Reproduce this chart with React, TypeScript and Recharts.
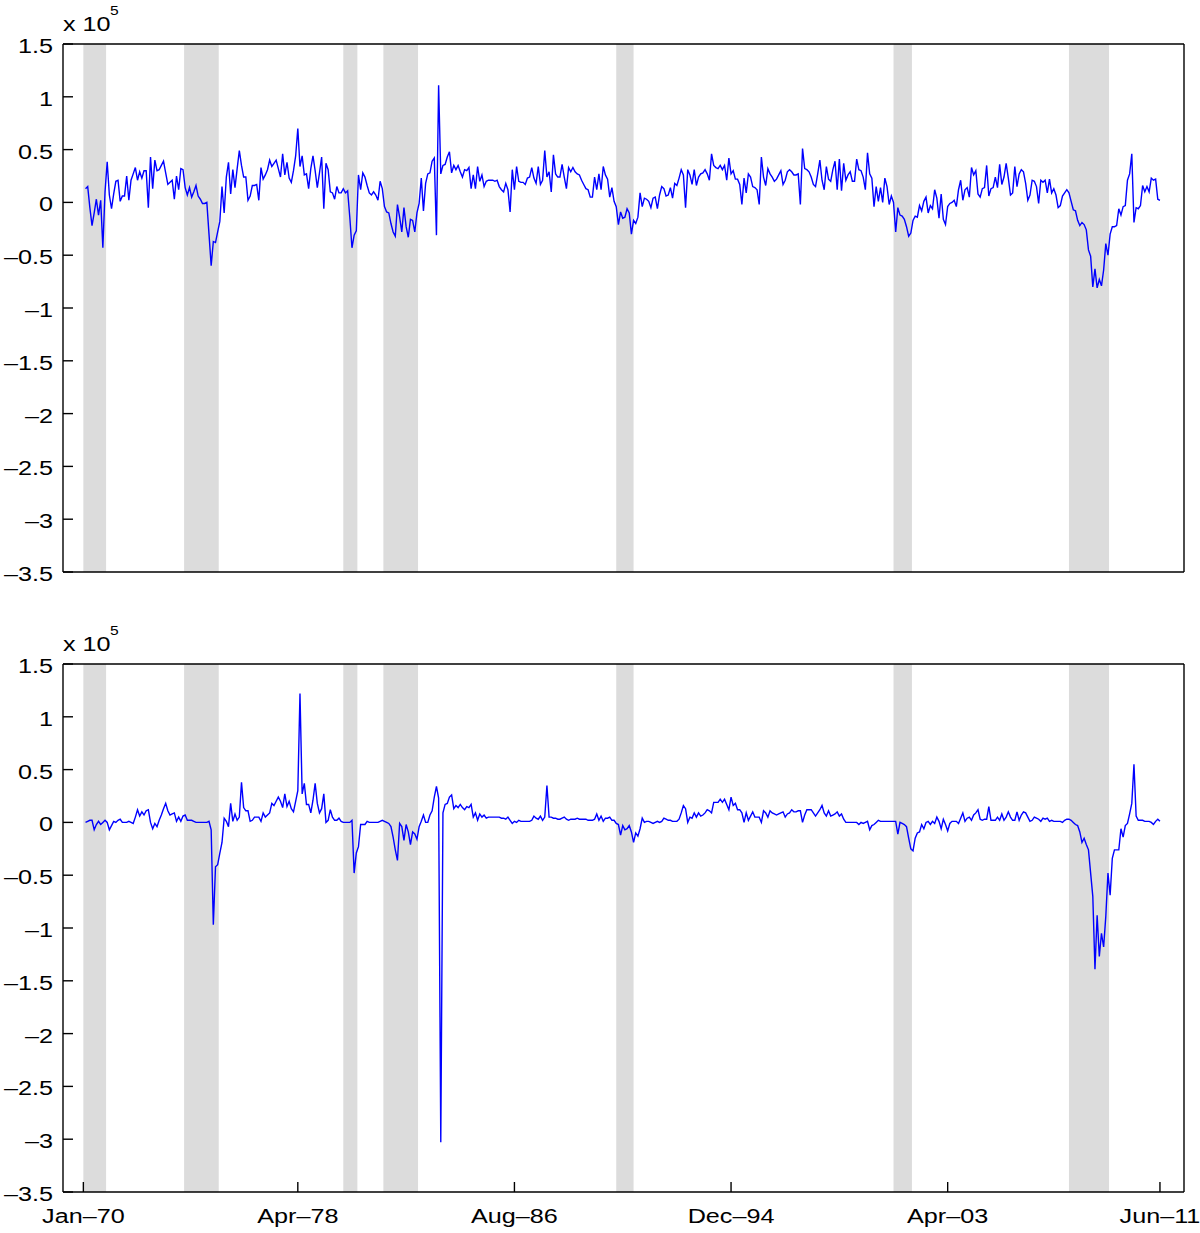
import React from "react";
import { LineChart, Line, XAxis, YAxis, ReferenceArea } from "recharts";

// monthly index: 0 = Jan-1970, series start at month 1
const firstMonth = 1;
const tickMonths = [0, 99, 199, 299, 399, 497];
const tickLabels = ["Jan–70", "Apr–78", "Aug–86", "Dec–94", "Apr–03", "Jun–11"];
const yTicks = [-3.5, -3, -2.5, -2, -1.5, -1, -0.5, 0, 0.5, 1, 1.5];

// NBER recessions, in month index
const recessionStart = [0, 46.5, 120, 138.5, 246, 374, 455];
const recessionEnd = [10.5, 62.5, 126.5, 154.5, 254, 382.5, 473.5];

// values in units of 1e5
const upperSeries = [
  0.13, 0.15, -0.05, -0.22, -0.10, 0.03, -0.12, 0.02, -0.43, 0.10,
  0.385, 0.07, -0.06, 0.08, 0.20, 0.21, 0.01, 0.06, 0.06, 0.25,
  0.02, 0.21, 0.27, 0.33, 0.21, 0.29, 0.23, 0.30, 0.30, -0.05,
  0.43, 0.13, 0.40, 0.30, 0.31, 0.35, 0.39, 0.28, 0.17, 0.19,
  0.21, 0.03, 0.25, 0.12, 0.32, 0.31, 0.14, 0.07, 0.14, 0.05,
  0.10, 0.16, 0.06, 0.03, -0.01, -0.01, 0.00, -0.30, -0.60, -0.37,
  -0.38, -0.28, -0.18, 0.15, -0.10, 0.24, 0.38, 0.08, 0.31, 0.14,
  0.32, 0.49, 0.35, 0.24, 0.24, 0.02, 0.06, 0.16, 0.16, 0.17,
  0.02, 0.33, 0.22, 0.26, 0.31, 0.40, 0.34, 0.37, 0.40, 0.32,
  0.24, 0.46, 0.26, 0.38, 0.23, 0.19, 0.30, 0.44, 0.70, 0.34,
  0.44, 0.26, 0.27, 0.13, 0.32, 0.44, 0.30, 0.14, 0.28, 0.43,
  -0.06, 0.37, 0.31, 0.10, 0.09, 0.03, 0.15, 0.09, 0.09, 0.13,
  0.09, 0.11, -0.14, -0.43, -0.31, -0.27, 0.26, 0.12, 0.28, 0.24,
  0.16, 0.09, 0.07, 0.10, 0.07, 0.02, 0.20, 0.13, -0.04, -0.09,
  -0.10, -0.20, -0.28, -0.32, -0.02, -0.14, -0.28, -0.05, -0.23, -0.33,
  -0.16, -0.17, -0.28, -0.10, -0.01, 0.23, -0.08, 0.18, 0.27, 0.28,
  0.39, 0.42, -0.31, 1.11, 0.27, 0.35, 0.36, 0.43, 0.48, 0.28,
  0.35, 0.31, 0.35, 0.29, 0.24, 0.31, 0.30, 0.33, 0.13, 0.26,
  0.13, 0.34, 0.20, 0.26, 0.15, 0.20, 0.21, 0.21, 0.21, 0.20,
  0.21, 0.15, 0.12, 0.10, 0.18, 0.12, -0.09, 0.31, 0.12, 0.34,
  0.20, 0.19, 0.19, 0.17, 0.23, 0.24, 0.33, 0.23, 0.18, 0.34,
  0.17, 0.21, 0.49, 0.24, 0.29, 0.10, 0.45, 0.27, 0.24, 0.24,
  0.36, 0.24, 0.13, 0.33, 0.29, 0.33, 0.29, 0.27, 0.26, 0.21,
  0.17, 0.13, 0.12, 0.05, 0.05, 0.24, 0.12, 0.27, 0.12, 0.34,
  0.26, 0.22, 0.05, 0.14, 0.01, -0.04, -0.21, -0.09, -0.15, -0.14,
  -0.06, -0.10, -0.30, -0.17, -0.20, -0.14, 0.09, -0.04, 0.04, 0.03,
  0.01, -0.05, 0.04, 0.05, -0.06, 0.07, 0.15, 0.13, 0.06, 0.07,
  0.14, 0.04, 0.18, 0.16, 0.23, 0.31, 0.26, -0.05, 0.31, 0.26,
  0.17, 0.31, 0.16, 0.24, 0.27, 0.28, 0.31, 0.27, 0.21, 0.46,
  0.35, 0.33, 0.32, 0.35, 0.31, 0.35, 0.21, 0.42, 0.27, 0.30,
  0.22, 0.22, 0.17, -0.02, 0.23, 0.09, 0.27, 0.24, 0.15, 0.14,
  0.12, -0.02, 0.43, 0.24, 0.16, 0.32, 0.27, 0.24, 0.20, 0.22,
  0.26, 0.30, 0.17, 0.21, 0.29, 0.31, 0.29, 0.26, 0.26, 0.27,
  -0.02, 0.51, 0.32, 0.31, 0.29, 0.24, 0.17, 0.15, 0.27, 0.40,
  0.21, 0.12, 0.34, 0.22, 0.20, 0.31, 0.39, 0.12, 0.41, 0.11,
  0.37, 0.21, 0.26, 0.29, 0.20, 0.20, 0.41, 0.31, 0.30, 0.24,
  0.12, 0.47, 0.27, 0.23, -0.04, 0.15, 0.01, 0.14, 0.00, 0.23,
  0.15, -0.02, 0.06, 0.00, -0.28, -0.05, -0.12, -0.13, -0.16, -0.23,
  -0.32, -0.29, -0.17, -0.13, -0.14, -0.03, -0.08, 0.01, 0.05, -0.10,
  -0.03, -0.06, 0.12, 0.04, -0.15, 0.08, -0.16, -0.21, -0.04, -0.01,
  0.00, 0.02, -0.04, 0.12, 0.21, 0.02, 0.12, 0.14, 0.05, 0.33,
  0.26, 0.30, 0.08, 0.05, 0.13, 0.14, 0.35, 0.06, 0.13, 0.14,
  0.24, 0.14, 0.36, 0.17, 0.24, 0.37, 0.23, 0.07, 0.09, 0.34,
  0.15, 0.27, 0.31, 0.29, 0.18, 0.02, 0.07, 0.21, 0.20, 0.15,
  -0.01, 0.21, 0.19, 0.21, 0.09, 0.22, 0.09, 0.13, 0.07, -0.05,
  -0.03, 0.06, 0.09, 0.12, 0.09, 0.01, -0.07, -0.08, -0.17, -0.22,
  -0.19, -0.21, -0.26, -0.45, -0.51, -0.80, -0.63, -0.81, -0.73, -0.79,
  -0.64, -0.39, -0.50, -0.30, -0.23, -0.23, -0.22, -0.06, -0.12, -0.04,
  -0.03, 0.21, 0.27, 0.46, -0.19, -0.05, -0.06, -0.03, 0.16, 0.10,
  0.15, 0.10, 0.23, 0.21, 0.22, 0.03, 0.02,
];

const lowerSeries = [
  0.00, 0.01, 0.02, 0.02, -0.07, -0.02, 0.01, -0.02, 0.00, 0.02,
  0.00, -0.07, -0.03, 0.01, 0.00, 0.02, 0.03, 0.00, 0.00, 0.00,
  0.01, 0.00, -0.01, 0.05, 0.12, 0.06, 0.10, 0.07, 0.11, 0.12,
  0.00, -0.06, -0.01, -0.04, 0.02, 0.07, 0.13, 0.18, 0.11, 0.07,
  0.08, 0.09, 0.01, 0.05, 0.01, 0.06, 0.07, 0.02, 0.02, 0.02,
  0.01, 0.00, 0.00, 0.00, 0.00, 0.00, 0.00, 0.01, -0.07, -0.97,
  -0.42, -0.40, -0.29, -0.19, 0.04, 0.01, -0.04, 0.18, 0.01, 0.08,
  0.02, 0.05, 0.38, 0.14, 0.11, 0.11, 0.01, 0.02, 0.05, 0.05,
  0.05, 0.01, 0.09, 0.05, 0.07, 0.09, 0.18, 0.16, 0.20, 0.24,
  0.20, 0.14, 0.27, 0.15, 0.20, 0.13, 0.10, 0.20, 0.30, 1.22,
  0.27, 0.37, 0.17, 0.17, 0.09, 0.21, 0.37, 0.18, 0.09, 0.13,
  0.27, 0.00, 0.02, 0.12, 0.05, 0.02, 0.02, 0.04, 0.01, 0.00,
  0.00, 0.00, 0.00, 0.02, -0.48, -0.29, -0.23, -0.02, -0.02, -0.02,
  0.01, 0.00, 0.00, 0.00, 0.00, 0.00, 0.01, 0.02, 0.01, 0.00,
  -0.01, -0.04, -0.14, -0.26, -0.36, -0.01, -0.04, -0.17, -0.02, -0.09,
  -0.21, -0.09, -0.11, -0.16, -0.04, 0.01, 0.07, 0.00, 0.00, 0.07,
  0.11, 0.24, 0.34, 0.23, -3.03, 0.09, 0.17, 0.18, 0.24, 0.26,
  0.13, 0.16, 0.14, 0.17, 0.14, 0.12, 0.15, 0.14, 0.17, 0.05,
  0.09, 0.02, 0.08, 0.05, 0.07, 0.04, 0.05, 0.05, 0.05, 0.05,
  0.05, 0.05, 0.04, 0.04, 0.03, 0.05, 0.02, -0.01, 0.01, 0.00,
  0.02, 0.01, 0.01, 0.01, 0.01, 0.01, 0.02, 0.06, 0.04, 0.03,
  0.06, 0.02, 0.05, 0.35, 0.05, 0.05, 0.04, 0.04, 0.03, 0.03,
  0.04, 0.05, 0.03, 0.02, 0.03, 0.03, 0.03, 0.04, 0.03, 0.03,
  0.03, 0.03, 0.02, 0.02, 0.02, 0.03, 0.08, 0.02, 0.06, 0.01,
  0.04, 0.04, 0.05, 0.02, 0.02, -0.01, -0.02, -0.12, -0.03, -0.07,
  -0.06, -0.03, -0.09, -0.19, -0.10, -0.13, -0.06, 0.04, 0.00, 0.01,
  0.01, 0.00, -0.01, 0.00, 0.01, 0.00, 0.01, 0.04, 0.03, 0.02,
  0.02, 0.01, 0.01, 0.01, 0.03, 0.09, 0.16, 0.13, 0.00, 0.05,
  0.04, 0.09, 0.05, 0.09, 0.06, 0.07, 0.09, 0.12, 0.11, 0.09,
  0.19, 0.19, 0.19, 0.22, 0.19, 0.22, 0.17, 0.12, 0.24, 0.16,
  0.18, 0.12, 0.12, 0.09, 0.00, 0.09, 0.02, 0.06, 0.10, 0.05,
  0.05, 0.05, 0.00, 0.11, 0.09, 0.05, 0.11, 0.09, 0.08, 0.07,
  0.08, 0.09, 0.10, 0.05, 0.08, 0.09, 0.12, 0.10, 0.10, 0.11,
  0.11, 0.00, 0.07, 0.12, 0.12, 0.12, 0.09, 0.06, 0.09, 0.12,
  0.16, 0.09, 0.06, 0.11, 0.06, 0.07, 0.08, 0.10, 0.06, 0.08,
  0.03, 0.00, 0.00, 0.00, 0.00, 0.00, 0.00, -0.02, 0.00, -0.01,
  0.00, 0.01, -0.07, -0.03, -0.02, 0.00, 0.02, 0.01, 0.01, 0.01,
  0.01, 0.01, 0.01, 0.01, 0.01, -0.11, 0.00, -0.01, -0.02, -0.04,
  -0.15, -0.25, -0.27, -0.15, -0.10, -0.09, -0.02, -0.06, 0.00, 0.01,
  -0.02, 0.01, -0.01, 0.05, 0.01, -0.06, 0.03, -0.02, -0.08, -0.01,
  0.01, 0.01, 0.01, -0.01, 0.04, 0.09, 0.01, 0.04, 0.05, 0.02,
  0.07, 0.09, 0.12, 0.03, 0.02, 0.03, 0.03, 0.15, 0.02, 0.02,
  0.02, 0.05, 0.02, 0.08, 0.02, 0.05, 0.10, 0.05, 0.02, 0.02,
  0.10, 0.02, 0.07, 0.10, 0.09, 0.05, 0.01, 0.02, 0.05, 0.04,
  0.03, 0.01, 0.04, 0.03, 0.04, 0.01, 0.02, 0.01, 0.01, 0.01,
  0.01, 0.00, 0.02, 0.03, 0.03, 0.02, 0.00, -0.02, -0.03, -0.09,
  -0.19, -0.15, -0.21, -0.26, -0.48, -0.70, -1.39, -0.88, -1.27, -1.05,
  -1.18, -0.89, -0.48, -0.69, -0.34, -0.26, -0.26, -0.26, -0.06, -0.14,
  -0.03, -0.01, 0.08, 0.18, 0.55, 0.06, 0.02, 0.02, 0.02, 0.01,
  0.01, 0.01, 0.00, -0.02, 0.01, 0.03, 0.01,
];

const X_DOMAIN: [number, number] = [-9.4, 508.1];
const Y_DOMAIN: [number, number] = [-3.5, 1.5];
const FONT = "'Liberation Sans', Arial, Helvetica, sans-serif";
const STRETCH = 1.2;

const fmtY = (v: number) => String(v).replace("-", "–");

function YTick(props: any) {
  const { x, y, payload } = props;
  return (
    <g transform={`translate(${x},${y}) scale(${STRETCH},1)`}>
      <text x={0} y={0} dy={9} textAnchor="end" fontSize={21} fontFamily={FONT} fill="#000">
        {fmtY(payload.value)}
      </text>
    </g>
  );
}

function XTick(props: any) {
  const { x, y, payload } = props;
  const idx = tickMonths.indexOf(payload.value);
  return (
    <g transform={`translate(${x},${y}) scale(${STRETCH},1)`}>
      <text x={0} y={0} dy={31} textAnchor="middle" fontSize={21} fontFamily={FONT} fill="#000">
        {idx >= 0 ? tickLabels[idx] : ""}
      </text>
    </g>
  );
}

function ScaleLabel({ top }: { top: number }) {
  return (
    <svg width={200} height={40} style={{ position: "absolute", left: 0, top, overflow: "visible" }}>
      <g transform={`translate(63,31) scale(${STRETCH},1)`}>
        <text fontSize={21} fontFamily={FONT} fill="#000">x 10</text>
      </g>
      <g transform={`translate(110,15) scale(${STRETCH},1)`}>
        <text fontSize={13} fontFamily={FONT} fill="#000">5</text>
      </g>
    </svg>
  );
}

function Panel({ values, top, showLabels }: { values: number[]; top: number; showLabels: boolean }) {
  const data = values.map((v, i) => ({ m: firstMonth + i, v }));
  const axisStroke = { stroke: "#000", strokeWidth: 1.4 };
  const bottomHeight = showLabels ? 30 : 1;
  const height = showLabels ? 613 : 590;
  return (
    <div style={{ position: "absolute", left: 0, top }}>
      <LineChart
        width={1200}
        height={height}
        data={data}
        margin={{ top: 43, right: 15, bottom: showLabels ? 11 : 17, left: 8 }}
      >
        <XAxis
          xAxisId="b"
          dataKey="m"
          type="number"
          domain={X_DOMAIN}
          ticks={tickMonths}
          interval={0}
          allowDataOverflow
          height={bottomHeight}
          tickSize={-10}
          tickMargin={10}
          tick={showLabels ? <XTick /> : false}
          axisLine={axisStroke}
          tickLine={axisStroke}
        />
        <XAxis
          xAxisId="t"
          orientation="top"
          dataKey="m"
          type="number"
          domain={X_DOMAIN}
          ticks={tickMonths}
          interval={0}
          allowDataOverflow
          height={1}
          tickSize={-10}
          tick={false}
          axisLine={axisStroke}
          tickLine={axisStroke}
        />
        <YAxis
          yAxisId="l"
          type="number"
          domain={Y_DOMAIN}
          ticks={yTicks}
          interval={0}
          allowDataOverflow
          width={55}
          tickSize={-10}
          tickMargin={20}
          tick={<YTick />}
          axisLine={axisStroke}
          tickLine={axisStroke}
        />
        <YAxis
          yAxisId="r"
          orientation="right"
          type="number"
          domain={Y_DOMAIN}
          ticks={yTicks}
          interval={0}
          allowDataOverflow
          width={1}
          tickSize={-10}
          tick={false}
          axisLine={axisStroke}
          tickLine={axisStroke}
        />
        {recessionStart.map((s, i) => (
          <ReferenceArea
            key={`rec-${i}`}
            xAxisId="b"
            yAxisId="l"
            x1={s}
            x2={recessionEnd[i]}
            fill="#dcdcdc"
            fillOpacity={1}
            stroke="none"
          />
        ))}
        <Line
          xAxisId="b"
          yAxisId="l"
          type="linear"
          dataKey="v"
          stroke="#0000ff"
          strokeWidth={1.4}
          dot={false}
          activeDot={false}
          isAnimationActive={false}
        />
      </LineChart>
    </div>
  );
}

export default function App() {
  return (
    <div
      style={{
        position: "absolute",
        left: 0,
        top: 0,
        width: 1200,
        height: 1233,
        background: "#fff",
        fontFamily: FONT,
      }}
    >
      <Panel values={upperSeries} top={0} showLabels={false} />
      <Panel values={lowerSeries} top={620} showLabels />
      <ScaleLabel top={0} />
      <ScaleLabel top={620} />
    </div>
  );
}
